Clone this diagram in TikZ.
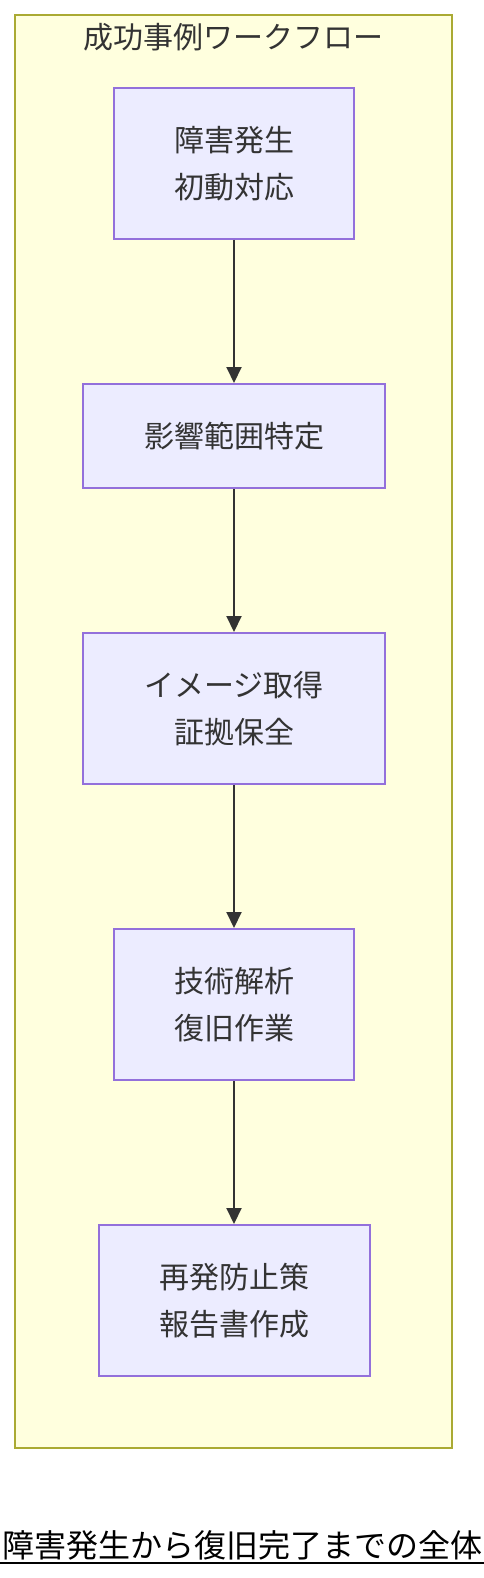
\documentclass[tikz,border=0pt]{standalone}
\usepackage{fontspec}
\newfontfamily\jpfont{Noto Sans CJK JP}
\usetikzlibrary{arrows.meta}
\definecolor{groupfill}{HTML}{FFFFDE}
\definecolor{groupline}{HTML}{AAAA33}
\definecolor{boxfill}{HTML}{ECECFF}
\definecolor{boxline}{HTML}{9370DB}
\definecolor{textgray}{HTML}{333333}

\begin{document}
\begin{tikzpicture}[x=1pt,y=-1pt,
    box/.style={draw=boxline, fill=boxfill, line width=2pt, inner sep=0pt,
        align=center, text=textgray, font=\jpfont\fontsize{30}{47}\selectfont},
    flow/.style={draw=textgray, line width=2pt, -{Triangle[length=16pt,width=15pt]}}]
    \useasboundingbox (0,0) rectangle (484,1578);
    % group
    \draw [draw=groupline, fill=groupfill, line width=2pt] (15,15) rectangle (452,1448);
    \node [text=textgray, font=\jpfont\fontsize{30}{36}\selectfont] (title) at (233,37) {成功事例ワークフロー};
    % steps
    \node [box, minimum width=240pt, minimum height=151pt] (occur) at (234,163.5) {障害発生\\初動対応};
    \node [box, minimum width=302pt, minimum height=104pt] (scope) at (234,436) {影響範囲特定};
    \node [box, minimum width=302pt, minimum height=151pt] (image) at (234,708.5) {イメージ取得\\証拠保全};
    \node [box, minimum width=240pt, minimum height=151pt] (analyze) at (234,1004.5) {技術解析\\復旧作業};
    \node [box, minimum width=271pt, minimum height=151pt] (report) at (234,1300.5) {再発防止策\\報告書作成};
    \draw [flow] (occur) -- (scope);
    \draw [flow] (scope) -- (image);
    \draw [flow] (image) -- (analyze);
    \draw [flow] (analyze) -- (report);
    % caption
    \node [anchor=base, inner xsep=2pt, font=\jpfont\fontsize{32}{38}\selectfont] (caption) at (242,1557) {障害発生から復旧完了までの全体};
    \draw [line width=2pt] ([yshift=-6pt]caption.base west) -- ([yshift=-6pt]caption.base east);
\end{tikzpicture}
\end{document}
